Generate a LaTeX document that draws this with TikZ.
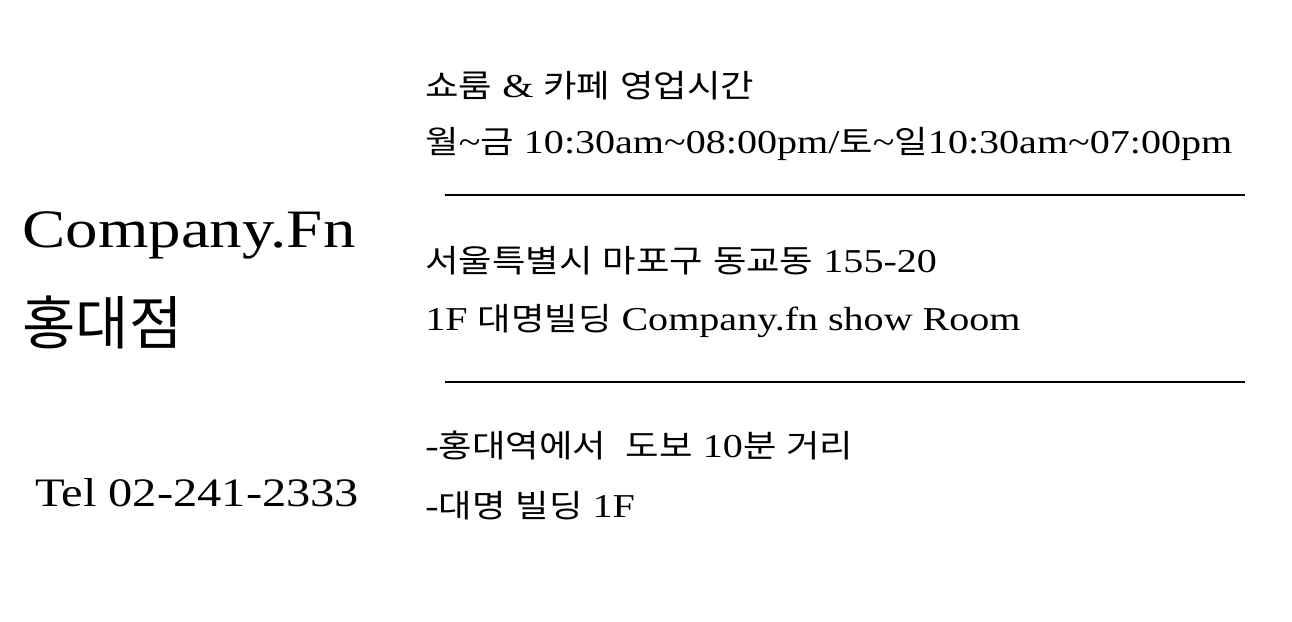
\documentclass[tikz,border=0pt]{standalone}
\usepackage{fontspec}
\setmainfont[FakeStretch=1.2]{Liberation Serif}
\newfontfamily\kr{Noto Sans CJK KR}
\newfontfamily\krtext[FakeStretch=1.15]{Noto Sans CJK KR}
\newcommand{\ko}[1]{{\krtext\fontsize{18}{20}\selectfont #1}}
\usepackage{tikz}

\begin{document}
\begin{tikzpicture}[x=0.02cm, y=-0.02cm,
    info/.style={anchor=base west, inner sep=0pt, font=\fontsize{19}{21}\selectfont},
    rule/.style={line width=1.6pt}]
    % Page frame
    \useasboundingbox[fill=white] (0,0) rectangle (1292,622);

    % Shop name and phone
    \node[anchor=base west, inner sep=0pt, font=\fontsize{30.8}{33}\selectfont] (name) at (22,247) {Company.Fn};
    \node[anchor=base west, inner sep=0pt, font=\kr\fontsize{33}{35}\selectfont] (branch) at (22,344) {홍대점};
    \node[anchor=base west, inner sep=0pt, font=\fontsize{23}{25}\selectfont] (tel) at (35,506) {Tel 02-241-2333};

    % Opening hours
    \node[info] (hours) at (425,97) {\ko{쇼룸} \& \ko{카페} \ko{영업시간}};
    \node[info] (days) at (425,153) {\ko{월}\textasciitilde\ko{금} 10:30am\textasciitilde08:00pm/\ko{토}\textasciitilde\ko{일}10:30am\textasciitilde07:00pm};

    \coordinate (r1a) at (445,195);
    \coordinate (r1b) at (1245,195);
    \draw[rule] (r1a) -- (r1b);

    % Address
    \node[info] (addr) at (425,272) {\ko{서울특별시} \ko{마포구} \ko{동교동} 155-20};
    \node[info] (bldg) at (425,330) {1F \ko{대명빌딩} Company.fn show Room};

    \coordinate (r2a) at (445,382);
    \coordinate (r2b) at (1245,382);
    \draw[rule] (r2a) -- (r2b);

    % Directions
    \node[info] (walk) at (425,457) {-\ko{홍대역에서}\ \ \ko{도보} 10\ko{분} \ko{거리}};
    \node[info] (floor) at (425,517) {-\ko{대명} \ko{빌딩} 1F};
\end{tikzpicture}
\end{document}
